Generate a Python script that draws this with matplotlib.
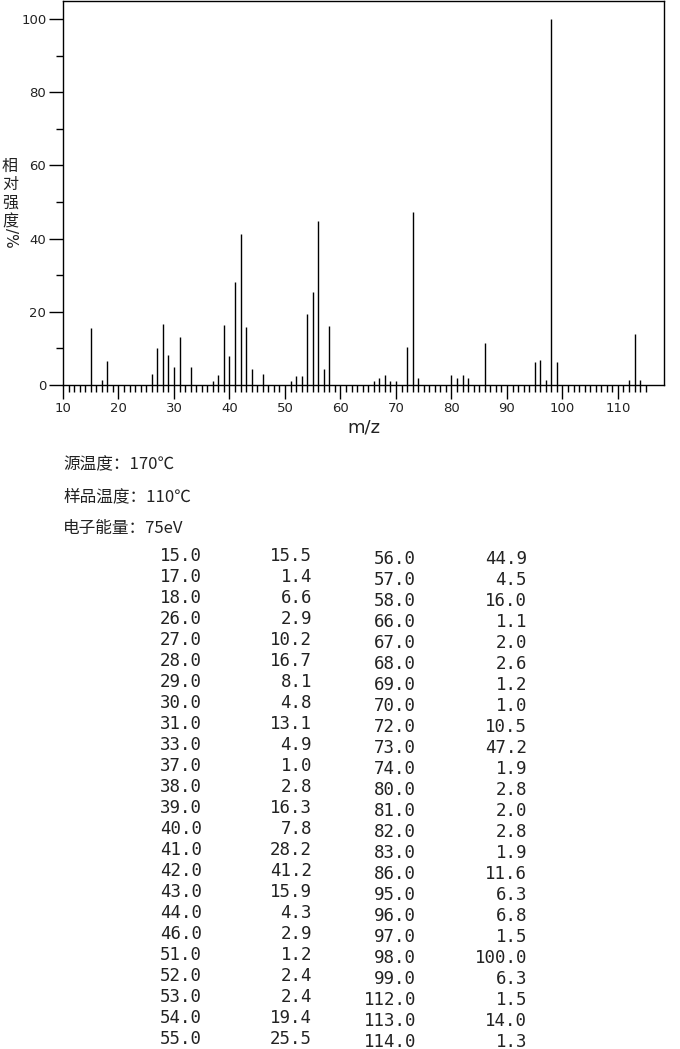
import matplotlib.pyplot as plt
from matplotlib.ticker import FixedLocator

plt.rcParams['font.family'] = ['Noto Sans CJK SC', 'DejaVu Sans']

mz = [15, 17, 18, 26, 27, 28, 29, 30, 31, 33, 37, 38, 39, 40, 41, 42, 43, 44,
      46, 51, 52, 53, 54, 55, 56, 57, 58, 66, 67, 68, 69, 70, 72, 73, 74, 80,
      81, 82, 83, 86, 95, 96, 97, 98, 99, 112, 113, 114]
intensity = [15.5, 1.4, 6.6, 2.9, 10.2, 16.7, 8.1, 4.8, 13.1, 4.9, 1.0, 2.8,
             16.3, 7.8, 28.2, 41.2, 15.9, 4.3, 2.9, 1.2, 2.4, 2.4, 19.4, 25.5,
             44.9, 4.5, 16.0, 1.1, 2.0, 2.6, 1.2, 1.0, 10.5, 47.2, 1.9, 2.8,
             2.0, 2.8, 1.9, 11.6, 6.3, 6.8, 1.5, 100.0, 6.3, 1.5, 14.0, 1.3]

info_lines = ['源温度：170℃', '样品温度：110℃', '电子能量：75eV']

W, H = 680, 1049
fig = plt.figure(figsize=(W / 100, H / 100), dpi=100)


def fx(px):
    return px / W


def fy(py):
    return 1 - py / H


ax = fig.add_axes([fx(63), fy(385), fx(664) - fx(63), fy(1) - fy(385)])
ax.vlines(mz, 0, intensity, color='black', lw=1)
ax.set_xlim(10, 118.3)
ax.set_ylim(0, 104.9)
for s in ax.spines.values():
    s.set_linewidth(1)

ax.xaxis.set_major_locator(FixedLocator(range(10, 111, 10)))
ax.xaxis.set_minor_locator(FixedLocator(range(11, 116)))
ax.yaxis.set_major_locator(FixedLocator(range(0, 101, 20)))
ax.yaxis.set_minor_locator(FixedLocator(range(10, 101, 20)))
ax.tick_params(axis='both', which='major', length=10, width=1, labelsize=9.5,
               direction='out', pad=2, labelcolor='#222222')
ax.tick_params(axis='both', which='minor', length=5, width=1, direction='out')
for lab in ax.get_xticklabels() + ax.get_yticklabels():
    lab.set_family('DejaVu Sans')
ax.set_xlabel('m/z', fontsize=13, labelpad=3, family='DejaVu Sans', color='#222222')

ylabel_chars = ['相', '对', '强', '度']
for i, ch in enumerate(ylabel_chars):
    fig.text(fx(10), fy(166 + i * 18.5), ch, fontsize=11.5, ha='center', va='center',
             color='#222222')
fig.text(fx(10), fy(238), '/%', fontsize=11, ha='center', va='center', rotation=270,
         family='DejaVu Sans', color='#222222')

for i, line in enumerate(info_lines):
    fig.text(fx(63), fy(465 + i * 31.5), line, fontsize=12, ha='left', va='center',
             color='#222222')

half = len(mz) // 2
for i in range(half):
    y1 = 556 + i * 21.0
    fig.text(fx(202), fy(y1), '%.1f' % mz[i], family='DejaVu Sans Mono',
             fontsize=12.5, ha='right', va='center', color='#222222')
    fig.text(fx(312), fy(y1), '%.1f' % intensity[i], family='DejaVu Sans Mono',
             fontsize=12.5, ha='right', va='center', color='#222222')
    y2 = y1 + 3
    fig.text(fx(416), fy(y2), '%.1f' % mz[half + i], family='DejaVu Sans Mono',
             fontsize=12.5, ha='right', va='center', color='#222222')
    fig.text(fx(527), fy(y2), '%.1f' % intensity[half + i], family='DejaVu Sans Mono',
             fontsize=12.5, ha='right', va='center', color='#222222')

fig.savefig('out.png', dpi=100)
